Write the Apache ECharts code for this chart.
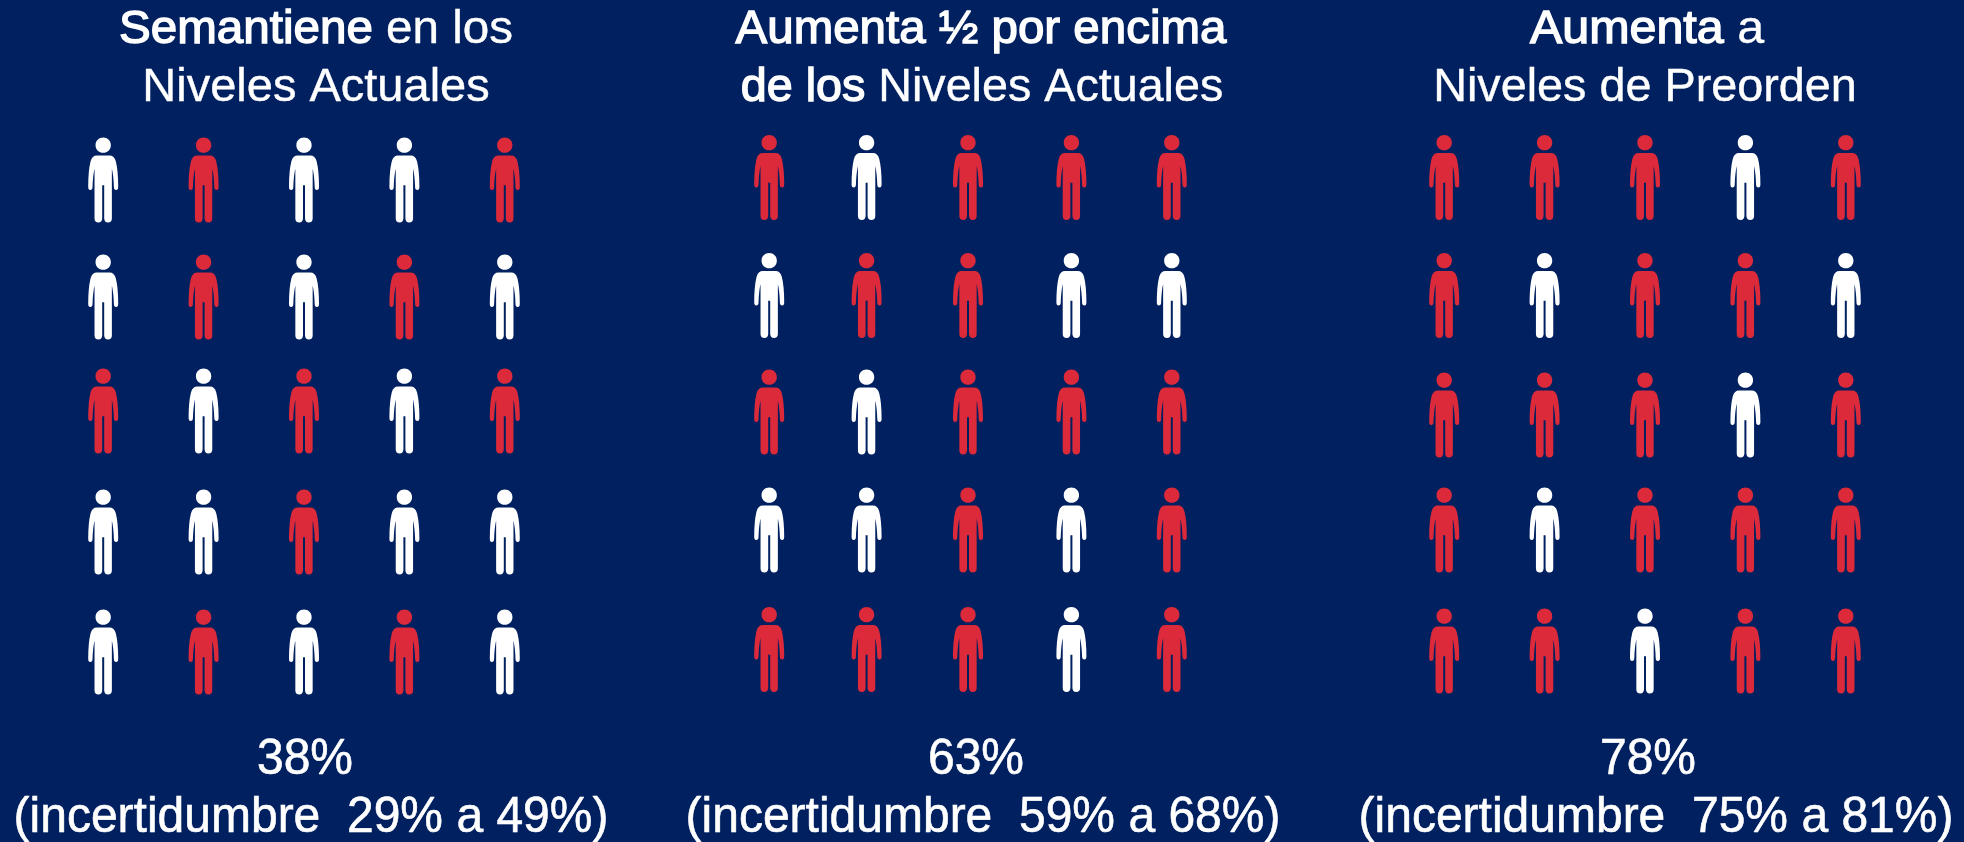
<!DOCTYPE html>
<html><head><meta charset="utf-8">
<style>html,body{margin:0;padding:0;background:#002060}#c{width:1964px;height:842px}</style>
<script src="https://cdn.jsdelivr.net/npm/echarts@6/dist/echarts.min.js"></script>
</head><body><div id="c"></div>
<script>
// 1 = red figure, 0 = white figure; rows top to bottom
const panel1 = [[0,1,0,0,1],[0,1,0,1,0],[1,0,1,0,1],[0,0,1,0,0],[0,1,0,1,0]];
const panel2 = [[1,0,1,1,1],[0,1,1,0,0],[1,0,1,1,1],[0,0,1,0,1],[1,1,1,0,1]];
const panel3 = [[1,1,1,0,1],[1,0,1,1,0],[1,1,1,0,1],[1,0,1,1,1],[1,1,0,1,1]];
const rows = ['1','2','3','4','5'];
const cols = ['1','2','3','4','5'];
const percents = ['38%','63%','78%'];
const ranges = ['(incertidumbre  29% a 49%)','(incertidumbre  59% a 68%)','(incertidumbre  75% a 81%)'];
const titleRich = [
  [[['b','Semantiene'],['r',' en los']],[['r','Niveles Actuales']]],
  [[['b','Aumenta ½ por encima']],[['b','de los '],['r','Niveles Actuales']]],
  [[['b','Aumenta'],['r',' a']],[['r','Niveles de Preorden']]]
];

const person = 'path://M45 0C58 0 68 10 68 23C68 36 58 46 45 46C32 46 22 36 22 23C22 10 32 0 45 0Z'+
 'M26 54L64 54Q78 54 83 72Q90 100 90 148Q90 158 84 158Q77 158 77 148Q76 115 71 93L71 244Q71 256 59 256Q49 256 48 244L48 144L42 144L42 244Q41 256 31 256Q19 256 19 244L19 93Q14 115 13 148Q13 158 6 158Q0 158 0 148Q0 100 7 72Q12 54 26 54Z';
const RED = '#DC2A3A', WHITE = '#FFFFFF';
const panels = [panel1,panel2,panel3];
const gridX = [53,719,1394];
const colNudge = [[0,0,0,0,0],[0,-3,-2,1,1],[0,0,0,0,0]];
const rowNudge = [[0,-1,-5,-2,0],[-2.5,-2.5,-4,-4,-2.5],[-2.5,-2.5,-1,-4,-1]];
const titleCenters = [[316,316],[981,982],[1647,1645]];
const titleScale = [[1.012,1],[1.01,.993],[1.03,.995]];
const pctCenters = [305,976,1648];
const rangeCenters = [311,983,1656];
const titleY = [30,88];
const pctY = 760.5, rangeY = 818.5;
const font = 'Liberation Sans';

const option = {backgroundColor:'#002060',animation:false,grid:[],xAxis:[],yAxis:[],series:[],graphic:[]};
panels.forEach((m,i)=>{
  option.grid.push({left:gridX[i],top:121,width:502,height:590});
  option.xAxis.push({type:'category',gridIndex:i,data:cols,show:false});
  option.yAxis.push({type:'category',gridIndex:i,data:rows,inverse:true,show:false});
  const pts=[];
  m.forEach((r,ri)=>r.forEach((v,ci)=>pts.push({
    value:[ci,ri],
    symbolOffset:[colNudge[i][ci],rowNudge[i][ri]],
    itemStyle:{color:v?RED:WHITE,opacity:1}
  })));
  option.series.push({type:'scatter',xAxisIndex:i,yAxisIndex:i,data:pts,symbol:person,symbolSize:[30,85],silent:true,itemStyle:{opacity:1}});
  titleRich[i].forEach((line,li)=>{
    option.graphic.push({
      type:'text',x:titleCenters[i][li],y:titleY[li],scaleX:titleScale[i][li],silent:true,
      style:{
        text:line.map(s=>`{${s[0]}|${s[1]}}`).join(''),
        align:'center',verticalAlign:'middle',
        rich:{
          b:{fontFamily:font,fontSize:47,fill:'#fff',stroke:'#fff',lineWidth:1.4},
          r:{fontFamily:font,fontSize:47,fill:'#fff',stroke:'#fff',lineWidth:0.4}
        }
      }
    });
  });
  const st=t=>({text:t,align:'center',verticalAlign:'middle',fontFamily:font,fontSize:50,fill:'#fff',stroke:'#fff',lineWidth:0.6});
  option.graphic.push({type:'text',x:pctCenters[i],y:pctY,scaleX:.96,silent:true,style:st(percents[i])});
  option.graphic.push({type:'text',x:rangeCenters[i],y:rangeY,scaleX:.96,silent:true,style:st(ranges[i])});
});
echarts.init(document.getElementById('c'),null,{renderer:'canvas'}).setOption(option);
</script></body></html>
